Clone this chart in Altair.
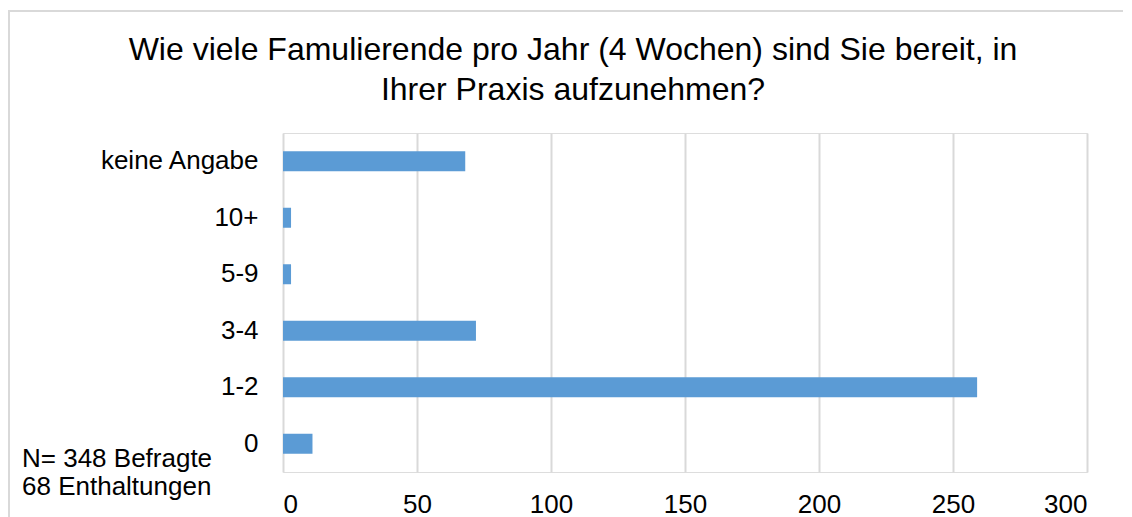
import altair as alt
import pandas as pd

categories = ["keine Angabe", "10+", "5-9", "3-4", "1-2", "0"]
values = [68, 3, 3, 72, 259, 11]
x_ticks = [0, 50, 100, 150, 200, 250, 300]
title_lines = ["Wie viele Famulierende pro Jahr (4 Wochen) sind Sie bereit, in",
               "Ihrer Praxis aufzunehmen?"]
note_lines = ["N= 348 Befragte", "68 Enthaltungen"]

df = pd.DataFrame({"Kategorie": categories, "Anzahl": values})
one = pd.DataFrame({"k": [0]})

FONT = "Liberation Sans"
W, H = 804, 339

bars = alt.Chart(df).mark_bar(color="#5b9bd5").encode(
    x=alt.X("Anzahl:Q",
            scale=alt.Scale(domain=[0, 300], nice=False),
            axis=alt.Axis(values=x_ticks, title=None, domain=False, ticks=False,
                          grid=True, gridColor="#d9d9d9", gridWidth=2,
                          labelFontSize=26, labelColor="#000000", labelFont=FONT,
                          labelPadding=19)),
    y=alt.Y("Kategorie:N", sort=categories,
            scale=alt.Scale(paddingInner=0.646, paddingOuter=0.323),
            axis=alt.Axis(title=None, domain=False, ticks=False, grid=False,
                          labelFontSize=26, labelColor="#000000", labelFont=FONT,
                          labelPadding=25)),
)

title = alt.Chart(one).mark_text(
    text=title_lines, font=FONT, fontSize=32, color="#000000",
    align="center", baseline="alphabetic", lineHeight=40
).encode(x=alt.value(290), y=alt.value(-73))

note = alt.Chart(one).mark_text(
    text=note_lines, font=FONT, fontSize=26, color="#000000",
    align="left", baseline="alphabetic", lineHeight=28
).encode(x=alt.value(-261), y=alt.value(334))

top_border = alt.Chart(one).mark_rule(color="#d9d9d9", strokeWidth=2).encode(
    x=alt.value(-275), x2=alt.value(W + 40), y=alt.value(-122))
left_border = alt.Chart(one).mark_rule(color="#d9d9d9", strokeWidth=2).encode(
    x=alt.value(-274), y=alt.value(-122), y2=alt.value(H + 60))

chart = alt.layer(top_border, left_border, bars, title, note).properties(
    width=W, height=H,
    autosize=alt.AutoSizeParams(type="none"),
    padding={"left": 275, "top": 125, "right": 36, "bottom": 45},
).configure_view(stroke=None).configure(background="white")

chart.save("out.html", embed_options={"renderer": "svg", "actions": False})
